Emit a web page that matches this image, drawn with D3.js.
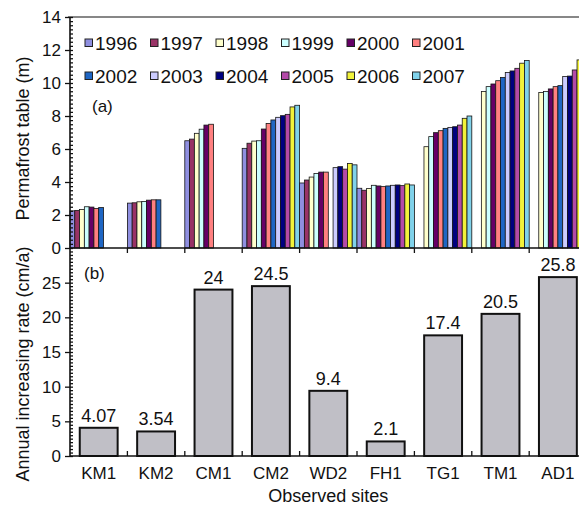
<!DOCTYPE html>
<html>
<head>
<meta charset="utf-8">
<script src="https://cdn.jsdelivr.net/npm/d3@7"></script>
<style>
  html, body { margin: 0; padding: 0; background: #fff; }
  svg { display: block; font-family: "Liberation Sans", Arial, sans-serif; }
</style>
</head>
<body>
<svg id="chart" width="579" height="506"></svg>
<script>
// Observation sites and survey years
const sites = ["KM1", "KM2", "CM1", "CM2", "WD2", "FH1", "TG1", "TM1", "AD1"];
const years = ["1996", "1997", "1998", "1999", "2000", "2001", "2002", "2003", "2004", "2005", "2006", "2007"];

// Permafrost table depth (m) per site, one value per year (null = not observed)
const km1 = [2.25, 2.28, 2.33, 2.5, 2.48, 2.4, 2.45, null, null, null, null, null];
const km2 = [2.72, 2.74, 2.8, 2.82, 2.9, 2.92, 2.92, null, null, null, null, null];
const cm1 = [6.5, 6.6, 6.95, 7.2, 7.45, 7.5, null, null, null, null, null, null];
const cm2 = [6.04, 6.35, 6.48, 6.5, 7.21, 7.55, 7.76, 7.92, 8.02, 8.1, 8.55, 8.65];
const wd2 = [3.94, 4.12, 4.3, 4.52, 4.6, 4.6, null, 4.87, 4.93, 4.78, 5.12, 5.04];
const fh1 = [3.62, 3.5, 3.6, 3.8, 3.76, 3.72, 3.76, 3.8, 3.82, 3.78, 3.88, 3.82];
const tg1 = [null, null, 6.14, 6.75, 6.99, 7.11, 7.25, 7.31, 7.35, 7.45, 7.86, 8.0];
const tm1 = [null, null, 9.48, 9.78, 9.94, 10.14, 10.34, 10.64, 10.73, 10.89, 11.2, 11.36];
const ad1 = [null, null, 9.42, 9.48, 9.64, 9.78, 9.84, 10.4, 10.42, 10.79, 11.4, 11.6];
const depthBySite = [km1, km2, cm1, cm2, wd2, fh1, tg1, tm1, ad1];

// Annual increasing rate of the permafrost table (cm/a)
const rate = [4.07, 3.54, 24, 24.5, 9.4, 2.1, 17.4, 20.5, 25.8];

// Tick values
const depthTicks = [0, 2, 4, 6, 8, 10, 12, 14];
const rateTicks = [0, 5, 10, 15, 20, 25];

// Year palette
const yearColors = ["#8f8fe0", "#993366", "#ffffcc", "#ccffff", "#660066", "#ff8080",
                    "#1f66c4", "#ccccff", "#000080", "#b44aa8", "#f2f23a", "#80d2ea"];

const svg = d3.select("#chart");
const FONT = "Liberation Sans, Arial, sans-serif";

const left = 70, step = 57.4;
const right = left + step * sites.length;
const topY = 17, midY = 248, baseY = 456;

// Scales
const x = d3.scaleBand().domain(sites).range([left, right]).padding(0);
const xYear = d3.scaleBand().domain(years).range([0, x.bandwidth()]).padding(0);
const xRate = d3.scaleBand().domain(sites).range([left, right]).paddingInner(0.34).paddingOuter(0.17);
const yDepth = d3.scaleLinear().domain([0, 14]).range([midY, topY]);
const yRate = d3.scaleLinear().domain([0, 30]).range([baseY, midY]);
const color = d3.scaleOrdinal().domain(years).range(yearColors);

// ---- (a) permafrost table bars ----
const depthRows = [];
sites.forEach((s, i) => {
  depthBySite[i].forEach((v, j) => {
    if (v != null) depthRows.push({ site: s, year: years[j], value: v });
  });
});

svg.append("g")
  .selectAll("rect")
  .data(depthRows)
  .join("rect")
  .attr("x", d => x(d.site) + xYear(d.year))
  .attr("y", d => yDepth(d.value))
  .attr("width", xYear.bandwidth())
  .attr("height", d => yDepth(0) - yDepth(d.value))
  .attr("fill", d => color(d.year))
  .attr("stroke", "#151515")
  .attr("stroke-width", 0.8);

// ---- (b) annual increasing rate bars ----
const rateRows = sites.map((s, i) => ({ site: s, value: rate[i] }));

svg.append("g")
  .selectAll("rect")
  .data(rateRows)
  .join("rect")
  .attr("x", d => xRate(d.site))
  .attr("y", d => yRate(d.value))
  .attr("width", xRate.bandwidth())
  .attr("height", d => yRate(0) - yRate(d.value))
  .attr("fill", "#c0bfc6")
  .attr("stroke", "#111")
  .attr("stroke-width", 2);

svg.append("g")
  .selectAll("text")
  .data(rateRows)
  .join("text")
  .attr("x", d => xRate(d.site) + xRate.bandwidth() / 2)
  .attr("y", d => yRate(d.value) - 6)
  .attr("text-anchor", "middle")
  .attr("font-size", 18)
  .attr("fill", "#111")
  .text(d => String(d.value));

// ---- axes ----
function styleAxis(g) {
  g.select(".domain").remove();
  g.selectAll("line").attr("stroke", "#111").attr("stroke-width", 1.3);
  g.selectAll("text").attr("font-family", FONT).attr("font-size", 17).attr("fill", "#111");
}

// Top y axis: major ticks with labels, minor ticks inside
svg.append("g")
  .attr("transform", `translate(${left},0)`)
  .call(d3.axisLeft(yDepth).tickValues(depthTicks).tickSize(5).tickPadding(4))
  .call(styleAxis);
svg.append("g")
  .attr("transform", `translate(${left},0)`)
  .call(d3.axisRight(yDepth).tickValues(d3.range(0, 14.001, 0.25)).tickSize(3).tickFormat(""))
  .call(styleAxis);

// Bottom y axis
svg.append("g")
  .attr("transform", `translate(${left},0)`)
  .call(d3.axisLeft(yRate).tickValues(rateTicks).tickSize(5).tickPadding(4))
  .call(styleAxis);
svg.append("g")
  .attr("transform", `translate(${left},0)`)
  .call(d3.axisRight(yRate).tickValues(d3.range(0, 29.9, 0.5)).tickSize(3).tickFormat(""))
  .call(styleAxis);

// Axis lines and frame
const lines = svg.append("g").attr("stroke", "#111").attr("stroke-width", 1.6);
lines.append("line").attr("x1", left).attr("x2", left).attr("y1", topY).attr("y2", baseY);
lines.append("line").attr("x1", left - 2).attr("x2", 579).attr("y1", topY).attr("y2", topY)
  .attr("stroke-width", 1.2);
lines.append("line").attr("x1", left).attr("x2", right).attr("y1", midY).attr("y2", midY);
lines.append("line").attr("x1", left).attr("x2", right).attr("y1", baseY).attr("y2", baseY);

// Category separators on both x axes
const seps = sites.slice(1).map(s => x(s)).concat([right]);
svg.append("g").selectAll("line").data(seps).join("line")
  .attr("x1", d => d).attr("x2", d => d)
  .attr("y1", midY).attr("y2", midY + 5)
  .attr("stroke", "#111").attr("stroke-width", 1.3);
svg.append("g").selectAll("line").data(seps).join("line")
  .attr("x1", d => d).attr("x2", d => d)
  .attr("y1", baseY).attr("y2", baseY - 5)
  .attr("stroke", "#111").attr("stroke-width", 1.3);

// Site labels
svg.append("g").selectAll("text").data(sites).join("text")
  .attr("x", d => x(d) + x.bandwidth() / 2)
  .attr("y", 479)
  .attr("text-anchor", "middle")
  .attr("font-size", 17)
  .attr("fill", "#111")
  .text(d => d);

// Axis titles
svg.append("text")
  .attr("x", (left + right) / 2)
  .attr("y", 502)
  .attr("text-anchor", "middle")
  .attr("font-size", 18)
  .attr("fill", "#111")
  .text("Observed sites");

svg.append("text")
  .attr("transform", `translate(29,${(topY + midY) / 2 + 6}) rotate(-90)`)
  .attr("text-anchor", "middle")
  .attr("font-size", 18)
  .attr("fill", "#111")
  .text("Permafrost table (m)");

svg.append("text")
  .attr("transform", `translate(29,364) rotate(-90)`)
  .attr("text-anchor", "middle")
  .attr("font-size", 18)
  .attr("fill", "#111")
  .text("Annual increasing rate (cm/a)");

// Panel tags
svg.append("text").attr("x", 92).attr("y", 112).attr("font-size", 17).attr("fill", "#111").text("(a)");
svg.append("text").attr("x", 84).attr("y", 279).attr("font-size", 17).attr("fill", "#111").text("(b)");

// Legend: two rows of six years
const legend = svg.append("g");
const legItems = legend.selectAll("g").data(years).join("g")
  .attr("transform", (d, i) => `translate(${85 + (i % 6) * 65.5},${i < 6 ? 43 : 76})`);
legItems.append("rect")
  .attr("x", 0).attr("y", -4).attr("width", 7.5).attr("height", 7.5)
  .attr("fill", d => color(d))
  .attr("stroke", "#222").attr("stroke-width", 1);
legItems.append("text")
  .attr("x", 10).attr("y", 7)
  .attr("font-size", 19)
  .attr("fill", "#111")
  .text(d => d);
</script>
</body>
</html>
